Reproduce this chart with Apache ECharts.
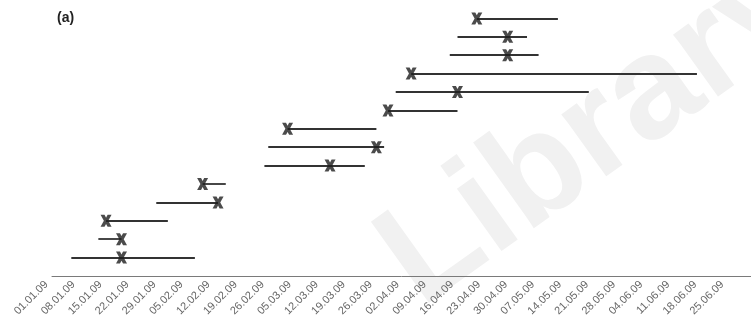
<!DOCTYPE html>
<html>
<head>
<meta charset="utf-8">
<script src="https://cdn.jsdelivr.net/npm/echarts@6/dist/echarts.min.js"></script>
<style>
  html, body { margin: 0; padding: 0; background: #fff; }
  #chart { width: 751px; height: 331px; }
</style>
</head>
<body>
<div id="chart"></div>
<script>
// Rows listed from bottom to top; dates are dd.mm (all in 2009)
const rowStart = ['06.01', '13.01', '15.01', '28.01', '09.02', '25.02', '26.02', '03.03', '29.03', '31.03', '04.04', '14.04', '16.04', '21.04'];
const rowMark  = ['19.01', '19.01', '15.01', '13.02', '09.02', '14.03', '26.03', '03.03', '29.03', '16.04', '04.04', '29.04', '29.04', '21.04'];
const rowEnd   = ['07.02', '19.01', '31.01', '13.02', '15.02', '23.03', '28.03', '26.03', '16.04', '20.05', '17.06', '07.05', '04.05', '12.05'];

// x axis: days since 01.01.09, weekly ticks
const axisStart = '01.01';
const axisEndDay = 181;
const tickStep = 7;

const YEAR = 2009;
const DAY_MS = 86400000;
const base = Date.UTC(YEAR, 0, 1);
function dayOf(s) {
  const [d, m] = s.split('.').map(Number);
  return (Date.UTC(YEAR, m - 1, d) - base) / DAY_MS;
}
function labelOf(v) {
  const dt = new Date(base + v * DAY_MS);
  const dd = String(dt.getUTCDate()).padStart(2, '0');
  const mm = String(dt.getUTCMonth() + 1).padStart(2, '0');
  return dd + '.' + mm + '.' + String(YEAR).slice(2);
}

const segments = rowStart.map((s, i) => ({
  coords: [[dayOf(s), i + 1], [dayOf(rowEnd[i]), i + 1]]
}));
const marks = rowMark.map((m, i) => [dayOf(m), i + 1]);

// bold cross glyph used as the point marker
const crossPath = 'path://M0,0 L3.6,0 L5,2.4 L6.4,0 L10,0 L7,5 L10,10 L6.4,10 L5,7.6 L3.6,10 L0,10 L3,5 Z';

const chart = echarts.init(document.getElementById('chart'), null, { renderer: 'canvas' });
chart.setOption({
  animation: false,
  backgroundColor: '#ffffff',
  grid: { left: 52, right: 0, top: -5, bottom: 55 },
  xAxis: {
    type: 'value',
    min: dayOf(axisStart),
    max: axisEndDay,
    interval: tickStep,
    splitLine: { show: false },
    axisLine: { show: true, lineStyle: { color: '#7a7a7a', width: 1 } },
    axisTick: { show: false },
    axisLabel: {
      rotate: 45,
      fontFamily: 'Liberation Sans, Arial, sans-serif',
      fontSize: 11,
      color: '#666',
      margin: 1,
      padding: [0, 8, 0, 0],
      showMaxLabel: false,
      formatter: labelOf
    }
  },
  yAxis: {
    type: 'value',
    min: 0,
    max: 15,
    show: false
  },
  graphic: [
    {
      type: 'text',
      left: 57,
      top: 11,
      z: 10,
      style: { text: '(a)', font: 'bold 14px "Liberation Sans", Arial, sans-serif', fill: '#222' }
    },
    {
      type: 'text',
      x: 440,
      y: 335,
      rotation: 0.62,
      z: -1,
      silent: true,
      style: {
        text: 'Library',
        font: 'bold 145px "Liberation Sans", Arial, sans-serif',
        fill: '#f1f1f1',
        textVerticalAlign: 'bottom'
      }
    }
  ],
  series: [
    {
      type: 'lines',
      coordinateSystem: 'cartesian2d',
      data: segments,
      lineStyle: { color: '#333', width: 1.8, opacity: 1 },
      z: 3
    },
    {
      type: 'scatter',
      data: marks,
      symbol: crossPath,
      symbolSize: [11, 12],
      itemStyle: { color: '#1e1e1e' },
      z: 4
    }
  ]
});
</script>
</body>
</html>
